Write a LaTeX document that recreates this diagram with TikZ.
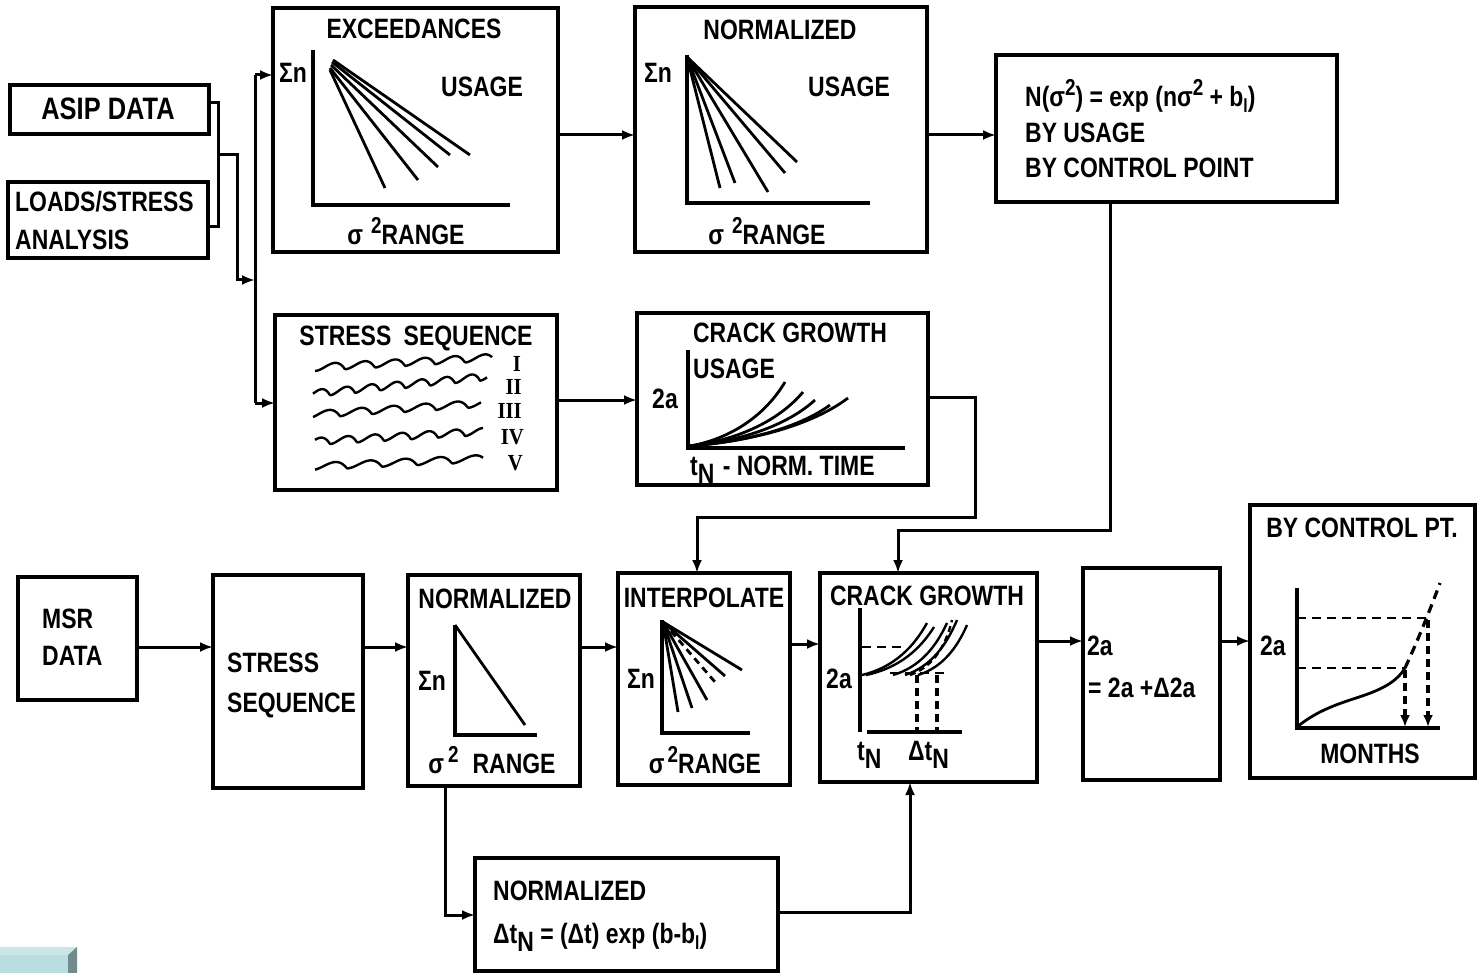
\documentclass[tikz,border=0pt]{standalone}
\usepackage{fontspec}
\setmainfont{Liberation Sans}[FakeStretch=0.82]
\newfontfamily\serifnum{Liberation Serif}[FakeStretch=0.9]
\usetikzlibrary{arrows.meta}
\newcommand\sq{\raisebox{11pt}{\fontsize{23}{25}\selectfont 2}}
\newcommand\sbN{\raisebox{-8pt}{N}}
\newcommand\sbl{\raisebox{-6pt}{\fontsize{19}{21}\selectfont l}}
\tikzset{
 box/.style={draw, line width=4pt, rectangle, inner sep=0pt, outer sep=0pt},
 lbl/.style={inner sep=0pt, font=\fontsize{28}{32}\selectfont\bfseries},
 big/.style={inner sep=0pt, font=\fontsize{31}{34}\selectfont\bfseries},
 rom/.style={inner sep=0pt, font=\fontsize{23}{25}\selectfont\serifnum\bfseries},
 ln/.style={line width=3pt},
 arr/.style={ln, -{Latex[length=13pt,width=10pt]}},
 ax/.style={line width=3.2pt},
 crv/.style={line width=2.8pt},
 dsh/.style={line width=2.8pt, dash pattern=on 9pt off 6pt},
 vdsh/.style={line width=3.8pt, dash pattern=on 8pt off 5pt},
}
\definecolor{tealA}{HTML}{B8DEE1}
\definecolor{tealB}{HTML}{CAE6E8}
\definecolor{tealC}{HTML}{6F8B8D}
\begin{document}
\begin{tikzpicture}[x=1pt,y=-1pt]
\useasboundingbox (0,0) rectangle (1479,973);
\fill[white] (0,0) rectangle (1479,973);
% corner decoration
\fill[tealA] (0,955) rectangle (68,973);
\fill[tealB] (0,947) -- (77,947) -- (68,955) -- (0,955) -- cycle;
\fill[tealC] (68,955) -- (77,947) -- (77,973) -- (68,973) -- cycle;

% boxes
\node[box, minimum width=199pt, minimum height=49pt] (asip) at (109.5,109.5) {};
\node[box, minimum width=200pt, minimum height=76pt] (loads) at (108,220) {};
\node[box, minimum width=285pt, minimum height=244pt] (exc) at (415.5,130) {};
\node[box, minimum width=292pt, minimum height=245pt] (norm1) at (781,129.5) {};
\node[box, minimum width=341pt, minimum height=147pt] (nbox) at (1166.5,128.5) {};
\node[box, minimum width=282pt, minimum height=175pt] (ss1) at (416,402.5) {};
\node[box, minimum width=291pt, minimum height=172pt] (cg1) at (782.5,399) {};
\node[box, minimum width=119pt, minimum height=123pt] (msr) at (77.5,638.5) {};
\node[box, minimum width=150pt, minimum height=213pt] (ss2) at (288,681.5) {};
\node[box, minimum width=172pt, minimum height=211pt] (norm2) at (494,680.5) {};
\node[box, minimum width=172pt, minimum height=212pt] (interp) at (704,679) {};
\node[box, minimum width=217pt, minimum height=209pt] (cg2) at (928.5,677.5) {};
\node[box, minimum width=137pt, minimum height=212pt] (abox) at (1151.5,674) {};
\node[box, minimum width=225pt, minimum height=273pt] (cp) at (1362.5,641.5) {};
\node[box, minimum width=303pt, minimum height=113pt] (norm3) at (626.5,914.5) {};

% labels
\node[big, anchor=base] (tAsip) at (108,120) {ASIP DATA};
\node[lbl, anchor=base west] (tLd1) at (15,212) {LOADS/STRESS};
\node[lbl, anchor=base west] (tLd2) at (15,250) {ANALYSIS};

\node[lbl, anchor=base] (tExc) at (414,39) {EXCEEDANCES};
\node[lbl, anchor=base] (tExcU) at (482,97) {USAGE};
\node[lbl, anchor=base] (tExcS) at (293,83) {Σn};
\node[lbl, anchor=base] (tExcR) at (406,245) {σ\hspace{8pt}\sq RANGE};

\node[lbl, anchor=base] (tN1) at (780,40) {NORMALIZED};
\node[lbl, anchor=base] (tN1U) at (849,97) {USAGE};
\node[lbl, anchor=base] (tN1S) at (658,83) {Σn};
\node[lbl, anchor=base] (tN1R) at (767,245) {σ\hspace{8pt}\sq RANGE};

\node[lbl, anchor=base west] (tNb1) at (1025,107) {N(σ\sq) = exp (nσ\sq\ + b\sbl)};
\node[lbl, anchor=base west] (tNb2) at (1025,143) {BY USAGE};
\node[lbl, anchor=base west] (tNb3) at (1025,178) {BY CONTROL POINT};

\node[lbl, anchor=base] (tSs1) at (416,345) {STRESS\hspace{6pt} SEQUENCE};
\node[rom, anchor=east] (r1) at (521,364) {I};
\node[rom, anchor=east] (r2) at (522,387) {II};
\node[rom, anchor=east] (r3) at (522,411) {III};
\node[rom, anchor=east] (r4) at (524,437) {IV};
\node[rom, anchor=east] (r5) at (523,463) {V};

\node[lbl, anchor=base] (tCg1) at (790,342) {CRACK GROWTH};
\node[lbl, anchor=base west] (tCg1U) at (693,378) {USAGE};
\node[lbl, anchor=base] (tCg1a) at (665,408) {2a};
\node[lbl, anchor=base west] (tCg1t) at (690,475) {t\sbN\hspace{2pt} - NORM. TIME};

\node[lbl, anchor=base west] (tMsr1) at (42,628) {MSR};
\node[lbl, anchor=base west] (tMsr2) at (42,665) {DATA};
\node[lbl, anchor=base west] (tSs21) at (227,672) {STRESS};
\node[lbl, anchor=base west] (tSs22) at (227,712) {SEQUENCE};

\node[lbl, anchor=base] (tN2) at (495,608) {NORMALIZED};
\node[lbl, anchor=base] (tN2S) at (432,690) {Σn};
\node[lbl, anchor=base] (tN2R) at (492,773) {σ\hspace{4pt}\sq\hspace{14pt}RANGE};

\node[lbl, anchor=base] (tIp) at (704,607) {INTERPOLATE};
\node[lbl, anchor=base] (tIpS) at (641,688) {Σn};
\node[lbl, anchor=base] (tIpR) at (705,773) {σ\hspace{3pt}\sq RANGE};

\node[lbl, anchor=base] (tCg2) at (927,605) {CRACK GROWTH};
\node[lbl, anchor=base] (tCg2a) at (839,688) {2a};
\node[lbl, anchor=base west] (tCg2t) at (857,760) {t\sbN};
\node[lbl, anchor=base west] (tCg2d) at (908,760) {Δt\sbN};

\node[lbl, anchor=base west] (tAb1) at (1087,655) {2a};
\node[lbl, anchor=base west] (tAb2) at (1088,697) {= 2a +Δ2a};

\node[lbl, anchor=base] (tCp) at (1362,537) {BY CONTROL PT.};
\node[lbl, anchor=base west] (tCpa) at (1260,655) {2a};
\node[lbl, anchor=base] (tCpM) at (1370,763) {MONTHS};

\node[lbl, anchor=base west] (tN31) at (493,900) {NORMALIZED};
\node[lbl, anchor=base west] (tN32) at (493,943) {Δt\sbN\ = (Δt) exp (b-b\sbl)};

% chart: exceedances
\draw[ax] (313,50) -- (313,205) -- (510,205);
\foreach \sx/\sy/\ex/\ey in {330/70/385/188, 330/68/418/180, 331/65/438/167, 332/62/450/155, 333/60/470/155}
  \draw[crv] (\sx,\sy) -- (\ex,\ey);
% chart: normalized top
\draw[ax] (687,55) -- (687,203) -- (870,203);
\foreach \ex/\ey in {720/188, 735/183, 768/192, 785/173, 797/162}
  \draw[crv] (687,57) -- (\ex,\ey);
% stress sequence waves
\foreach \sx/\ya/\yb/\p/\ph/\L in {315/371/361/30/0/177, 313/397/380/25/8/174, 313/418/407/32/5/168, 315/445/435/27/12/168, 315/470/462/35/3/168}
  \draw[line width=2.4pt, line join=round] plot[domain=0:\L, samples=150]
   ({\sx+\x}, {\ya+(\yb-\ya)*\x/\L - 7*6.75*(mod(\x+\ph,\p)/\p)^2*(1-mod(\x+\ph,\p)/\p)});
% crack growth top
\draw[ax] (688,350) -- (688,448) -- (905,448);
\foreach \ex/\ey in {785/382, 803/392, 815/400, 830/405, 848/398}
  \draw[crv] (690,446) .. controls ({690+0.45*(\ex-690)},{446-0.12*(446-\ey)}) and ({690+0.8*(\ex-690)},{446-0.5*(446-\ey)}) .. (\ex,\ey);
% normalized bottom
\draw[ax] (455,625) -- (455,735) -- (537,735);
\draw[crv] (455,625) -- (525,725);
% interpolate
\draw[ax] (662,620) -- (662,733) -- (750,733);
\foreach \ex/\ey in {678/712, 692/708, 707/700, 725/676, 742/670}
  \draw[crv] (663,622) -- (\ex,\ey);
\draw[crv, dash pattern=on 7pt off 5pt] (663,622) -- (715,682);
% crack growth bottom
\draw[ax] (860,608) -- (860,732);
\draw[ax] (867,732) -- (962,732);
\draw[dsh] (862,647) -- (903,647);
\draw[dsh] (890,673) -- (945,673);
\draw[vdsh] (917,675) -- (917,732);
\draw[vdsh] (937,675) -- (937,732);
\foreach \sx/\ex/\ey in {862/927/623, 866/934/627, 893/947/623, 905/957/620, 918/967/625}
  \draw[crv, line width=2.4pt] (\sx,675) .. controls ({\sx+0.5*(\ex-\sx)},{675-0.15*(675-\ey)}) and ({\sx+0.8*(\ex-\sx)},{675-0.55*(675-\ey)}) .. (\ex,\ey);
\draw[line width=2.4pt, dash pattern=on 6pt off 4pt] (910,675) .. controls (930,668) and (945,650) .. (952,620);
% control point chart
\draw[ax] (1297,588) -- (1297,728) -- (1440,728);
\draw[crv] (1297,727) .. controls (1320,708) and (1345,702) .. (1365,695) .. controls (1385,688) and (1398,680) .. (1405,668);
\draw[dsh, line width=3.2pt] (1405,668) .. controls (1418,640) and (1430,610) .. (1440,583);
\draw[dsh] (1297,618) -- (1428,618);
\draw[dsh] (1297,668) -- (1405,668);
\draw[vdsh, -{Latex[length=12pt,width=10pt]}] (1405,670) -- (1405,727);
\draw[vdsh, -{Latex[length=12pt,width=10pt]}] (1428,620) -- (1428,727);

% connectors top
\coordinate (bk) at (218,155);
\coordinate (bkr) at (237,155);
\coordinate (bkd) at (237,280);
\coordinate (busm) at (255,280);
\coordinate (bust) at (255,75);
\coordinate (busb) at (255,403);
\draw[ln] ([yshift=6.5pt]asip.east) -- ++(9,0) |- ([yshift=-7pt]loads.east);
\draw[arr] (bk) -- (bkr) -- (bkd) -- (busm);
\draw[ln] (bust) -- (busb);
\draw[arr] (bust) -- (bust -| exc.west);
\draw[arr] (busb) -- (busb -| ss1.west);
\coordinate (ya) at (0,135);
\draw[arr] (exc.east |- ya) -- (norm1.west |- ya);
\draw[arr] (norm1.east |- ya) -- (nbox.west |- ya);
\coordinate (yb) at (0,400);
\draw[arr] (ss1.east |- yb) -- (cg1.west |- yb);
\coordinate (c1a) at (975,397);
\coordinate (c1b) at (975,517);
\coordinate (c1c) at (697,517);
\draw[arr] (cg1.east |- c1a) -- (c1a) -- (c1b) -- (c1c) -- (c1c |- interp.north);
\coordinate (n1a) at (1110,530);
\coordinate (n1b) at (898,530);
\draw[arr] (n1a |- nbox.south) -- (n1a) -- (n1b) -- (n1b |- cg2.north);
% connectors bottom
\coordinate (yc) at (0,647);
\draw[arr] (msr.east |- yc) -- (ss2.west |- yc);
\draw[arr] (ss2.east |- yc) -- (norm2.west |- yc);
\draw[arr] (norm2.east |- yc) -- (interp.west |- yc);
\coordinate (yd) at (0,644);
\draw[arr] (interp.east |- yd) -- (cg2.west |- yd);
\coordinate (ye) at (0,641);
\draw[arr] (cg2.east |- ye) -- (abox.west |- ye);
\draw[arr] (abox.east |- ye) -- (cp.west |- ye);
\coordinate (b1) at (445,915);
\coordinate (b2) at (910,912);
\draw[arr] (b1 |- norm2.south) -- (b1) -- (b1 -| norm3.west);
\draw[arr] (norm3.east |- b2) -- (b2) -- (b2 |- cg2.south);
\end{tikzpicture}
\end{document}
